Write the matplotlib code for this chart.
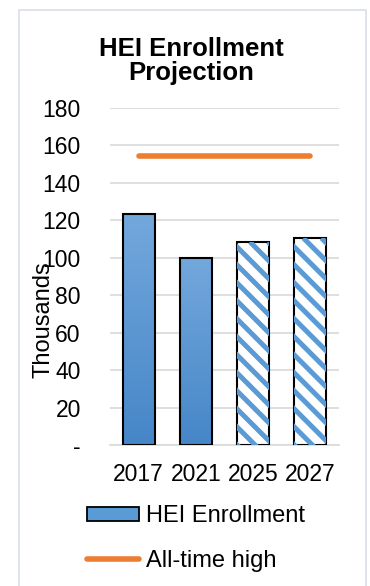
import matplotlib
matplotlib.use("Agg")
import matplotlib.pyplot as plt
import numpy as np
from matplotlib.patches import Rectangle, Patch
from matplotlib.lines import Line2D
from matplotlib.transforms import IdentityTransform

categories = ["2017", "2021", "2025", "2027"]
enrollment = [123.5, 100.0, 108.5, 110.5]
projected = [False, False, True, True]
all_time_high = 154.5
yticks = [0, 20, 40, 60, 80, 100, 120, 140, 160, 180]
yticklabels = ["-", "20", "40", "60", "80", "100", "120", "140", "160", "180"]

plt.rcParams['font.family'] = ['Liberation Sans', 'DejaVu Sans']

W, H = 370, 586
fig = plt.figure(figsize=(W/100, H/100), dpi=100)

# outer border
fig.patches.append(Rectangle((19/W, -0.01), (366-19)/W, 1 - 10/H + 0.01, transform=fig.transFigure,
                             fill=False, edgecolor="#D9DEE6", linewidth=1.2))

ax = fig.add_axes([110/W, 1-445/H, (339-110)/W, (445-108)/H])
x = np.arange(len(categories))
bw = 0.56
ax.set_xlim(-0.5, len(categories)-0.5)
ax.set_ylim(0, 180)

top_c = np.array([115, 168, 220]) / 255
bot_c = np.array([70, 134, 200]) / 255
grad = np.linspace(0, 1, 256)[:, None]
cmap = matplotlib.colors.LinearSegmentedColormap.from_list("g", [bot_c, top_c])

stripe_gap = 18.0   # px between stripes (horizontal)
stripe_lw = 3.6     # pt
for xi, v, p in zip(x, enrollment, projected):
    if p:
        bars = ax.bar(xi, v, bw, color="white", linewidth=0, zorder=2)
        patch = bars[0]
        bb = patch.get_window_extent()
        span = bb.width + bb.height
        k = -bb.height
        while k < bb.width + stripe_gap:
            x0 = bb.x0 + k
            ln = Line2D([x0, x0 + span], [bb.y1, bb.y1 - span], transform=IdentityTransform(),
                        color="#5B9BD5", linewidth=stripe_lw, solid_capstyle="butt", zorder=2.5)
            ln.set_clip_path(patch)
            fig.add_artist(ln)
            k += stripe_gap
    else:
        im = ax.imshow(grad, extent=(xi-bw/2, xi+bw/2, 0, v), origin="lower", cmap=cmap,
                       aspect="auto", zorder=2)
        r = Rectangle((xi-bw/2, 0), bw, v, transform=ax.transData)
        im.set_clip_path(r)
    ax.bar(xi, v, bw, fill=False, edgecolor="black", linewidth=1.5, zorder=3)

ax.plot([x[0], x[-1]], [all_time_high]*2, color="#ED7D31", linewidth=4, solid_capstyle="round", zorder=4)

ax.set_xlim(-0.5, len(categories)-0.5)
ax.set_ylim(0, 180)
ax.set_yticks(yticks)
ax.set_yticklabels(yticklabels)
ax.set_xticks(x)
ax.set_xticklabels(categories)
ax.tick_params(axis="both", length=0, labelsize=16.5, colors="black")
ax.tick_params(axis="y", pad=21)
ax.tick_params(axis="x", pad=13)
ax.yaxis.grid(True, color="#D9D9D9", linewidth=1.2, zorder=0)
ax.set_axisbelow(True)
for s in ax.spines.values():
    s.set_visible(False)
ax.spines["bottom"].set_visible(True)
ax.spines["bottom"].set_color("#D9D9D9")
ax.spines["bottom"].set_linewidth(1.2)
ax.set_facecolor("none")

fig.text(44/W, 1-320/H, "Thousands", rotation=90, fontsize=17, ha="center", va="center")
fig.text(191/W, 1-61/H, "HEI Enrollment\nProjection", fontsize=18.5, fontweight="bold",
         ha="center", va="center", linespacing=1.05)

handles = [Patch(facecolor="#5B9BD5", edgecolor="black", linewidth=1.3),
           Line2D([0], [0], color="#ED7D31", linewidth=4, solid_capstyle="round")]
fig.legend(handles, ["HEI Enrollment", "All-time high"], loc="upper left",
           bbox_to_anchor=(87/W, 1-505/H), frameon=False, fontsize=17,
           handlelength=2.2, handleheight=0.55, handletextpad=0.3, labelspacing=0.98,
           borderpad=0, borderaxespad=0)

fig.savefig("out.png", dpi=100)
